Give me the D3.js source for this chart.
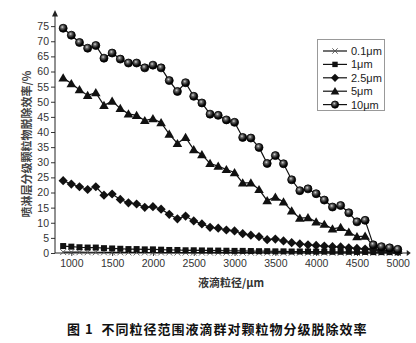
<!DOCTYPE html>
<html><head><meta charset="utf-8">
<script src="https://cdn.jsdelivr.net/npm/d3@7"></script>
<style>
html,body{margin:0;padding:0;background:#fff;}
svg{display:block;}
</style></head>
<body>
<svg id="c" width="416" height="343"></svg>
<script>
const dropSizes = [900,1000,1100,1200,1300,1400,1500,1600,1700,1800,1900,2000,2100,2200,2300,2400,2500,2600,2700,2800,2900,3000,3100,3200,3300,3400,3500,3600,3700,3800,3900,4000,4100,4200,4300,4400,4500,4600,4700,4800,4900,5000];
const eff01 = [0.3,0.28,0.26,0.25,0.24,0.22,0.21,0.2,0.19,0.18,0.17,0.16,0.15,0.15,0.14,0.13,0.13,0.12,0.12,0.11,0.11,0.1,0.1,0.1,0.09,0.09,0.09,0.08,0.08,0.08,0.07,0.07,0.07,0.07,0.06,0.06,0.06,0.06,0.05,0.05,0.05,0.05];
const eff1 = [2.3,2.1,1.9,1.8,1.8,1.6,1.5,1.4,1.3,1.3,1.2,1.2,1.1,1.0,1.0,0.9,0.9,0.85,0.8,0.8,0.75,0.7,0.7,0.65,0.6,0.6,0.55,0.55,0.5,0.5,0.5,0.45,0.45,0.4,0.4,0.4,0.35,0.35,0.3,0.3,0.3,0.25];
const eff25 = [23.9,22.8,21.9,21,21.9,19.1,19.5,17.7,16.6,16.2,15.1,15.3,14.5,12.8,11.3,12.2,10.6,9.6,8.5,8.2,7.6,7.3,6.4,5.9,5.4,4.4,4.6,4,3.4,3,2.7,2.5,2.3,2.1,2,1.7,1.5,1.3,1.1,0.9,0.8,0.6];
const eff5 = [57.9,56,54,52.1,53,48.8,50.2,47.8,46,45.5,43.8,44.4,43.1,39.3,36.2,38.2,34.2,32.5,29.6,28.7,27.6,26.6,23.2,23.2,21,17.3,18.5,16.9,13.9,11.5,11.7,10.3,9.5,8,8.5,6.9,5.4,5.6,2.3,1.6,1.2,0.9];
const eff10 = [74.3,72,69.6,67.7,68.6,64.4,66.1,64.1,62.8,62.8,61.2,62.1,61.2,57,53.4,56.3,51.8,49.6,45.9,45.5,44,43.2,38.2,38,34.9,29.6,32.2,29.5,24.2,20.6,21.2,19.6,17.5,15.2,15.7,13.3,10.3,10.8,2.7,2.1,1.7,1.2];
const seriesNames = ["0.1μm","1μm","2.5μm","5μm","10μm"];
const seriesMarkers = ["cross","square","diamond","triangle","circle"];
const xTicks = [1000,1500,2000,2500,3000,3500,4000,4500,5000];
const yTicks = [0,5,10,15,20,25,30,35,40,45,50,55,60,65,70,75];
const xTitle = "液滴粒径/μm";
const yTitle = "喷淋层分级颗粒物脱除效率/%";
const caption = "图 1  不同粒径范围液滴群对颗粒物分级脱除效率";

const seriesData = [eff01, eff1, eff25, eff5, eff10];

const svg = d3.select("#c");
const x = d3.scaleLinear().domain([800, 5150]).range([55, 410]);
const y = d3.scaleLinear().domain([0, 80]).range([253, 11]);

const defs = svg.append("defs");
const grad = defs.append("radialGradient").attr("id","ball").attr("cx","40%").attr("cy","35%").attr("r","60%");
grad.append("stop").attr("offset","0%").attr("stop-color","#d8d8d8");
grad.append("stop").attr("offset","30%").attr("stop-color","#666");
grad.append("stop").attr("offset","75%").attr("stop-color","#111");
grad.append("stop").attr("offset","100%").attr("stop-color","#000");

const tickFont = "'Liberation Sans', Arial, sans-serif";

// Y axis
const yAxis = d3.axisLeft(y).tickValues(yTicks).tickSize(4).tickPadding(2);
const gy = svg.append("g").attr("transform","translate(55,0)").call(yAxis);
gy.select(".domain").remove();
gy.selectAll("text").attr("font-family", tickFont).attr("font-size", 10.5).attr("fill","#333");
gy.selectAll("line").attr("stroke","#333");

// X axis
const xAxis = d3.axisBottom(x).tickValues(xTicks).tickFormat(d3.format("d")).tickSize(3).tickPadding(4);
const gx = svg.append("g").attr("transform","translate(0,253)").call(xAxis);
gx.select(".domain").remove();
gx.selectAll("text").attr("font-family", tickFont).attr("font-size", 10.5).attr("fill","#333");
gx.selectAll("line").attr("stroke","#333");

// axis lines with arrows
svg.append("line").attr("x1",55).attr("y1",253).attr("x2",55).attr("y2",y(79)).attr("stroke","#222").attr("stroke-width",1);
svg.append("path").attr("d",`M52,${y(78.2)} L55,${y(80.3)} L58,${y(78.2)} Z`).attr("fill","#222");
svg.append("line").attr("x1",55).attr("y1",253).attr("x2",x(5120)).attr("y2",253).attr("stroke","#222").attr("stroke-width",1);
svg.append("path").attr("d",`M${x(5110)},250 L${x(5160)},253 L${x(5110)},256 Z`).attr("fill","#222");

// series
const line = d3.line().x((d,i)=>x(dropSizes[i])).y(d=>y(d));

function drawMarker(g, type, cx, cy, scale){
  const s = scale || 1;
  if(type==="cross"){
    g.append("path").attr("d",`M${cx-3*s},${cy-3*s}L${cx+3*s},${cy+3*s}M${cx-3*s},${cy+3*s}L${cx+3*s},${cy-3*s}`)
      .attr("stroke","#555").attr("stroke-width",0.9).attr("fill","none");
  } else if(type==="square"){
    g.append("rect").attr("x",cx-3*s).attr("y",cy-3*s).attr("width",6*s).attr("height",6*s).attr("fill","#111");
  } else if(type==="diamond"){
    g.append("path").attr("d",`M${cx},${cy-4.6*s}L${cx+4.6*s},${cy}L${cx},${cy+4.6*s}L${cx-4.6*s},${cy}Z`).attr("fill","#111");
  } else if(type==="triangle"){
    g.append("path").attr("d",`M${cx},${cy-4.6*s}L${cx+4.8*s},${cy+3.6*s}L${cx-4.8*s},${cy+3.6*s}Z`).attr("fill","#111");
  } else if(type==="circle"){
    g.append("circle").attr("cx",cx).attr("cy",cy).attr("r",4*s).attr("fill","url(#ball)").attr("stroke","#000").attr("stroke-width",0.8);
  }
}

seriesData.forEach((vals, si)=>{
  const g = svg.append("g");
  g.append("path").attr("d", line(vals)).attr("fill","none").attr("stroke","#111").attr("stroke-width",1.2);
  vals.forEach((v,i)=> drawMarker(g, seriesMarkers[si], x(dropSizes[i]), y(v)));
});

// Legend
const lg = svg.append("g");
lg.append("rect").attr("x",317.5).attr("y",39.5).attr("width",67).attr("height",71).attr("fill","#fff").attr("stroke","#999").attr("stroke-width",1);
seriesNames.forEach((n,i)=>{
  const ly = 51 + i*13.4;
  lg.append("line").attr("x1",323).attr("x2",347).attr("y1",ly).attr("y2",ly).attr("stroke","#111").attr("stroke-width",1.2);
  drawMarker(lg, seriesMarkers[i], 335, ly, 0.9);
  lg.append("text").attr("x",351).attr("y",ly+4).attr("font-family",tickFont).attr("font-size",11).attr("fill","#222").text(n);
});

// Axis titles
svg.append("text").attr("transform","translate(31,144) rotate(-90)").attr("text-anchor","middle")
  .attr("font-family","'Noto Sans CJK SC', sans-serif").attr("font-size",11).attr("font-weight","bold").attr("fill","#444").text(yTitle);
svg.append("text").attr("x",231).attr("y",287).attr("text-anchor","middle")
  .attr("font-family","'Noto Sans CJK SC', sans-serif").attr("font-size",11).attr("font-weight","bold").attr("fill","#333").text(xTitle);

// Caption
svg.append("text").attr("x",67).attr("y",334).attr("xml:space","preserve").attr("letter-spacing",1)
  .attr("font-family","'Noto Sans CJK SC', sans-serif").attr("font-size",13).attr("font-weight","bold").attr("fill","#111").text(caption);
</script>
</body></html>
